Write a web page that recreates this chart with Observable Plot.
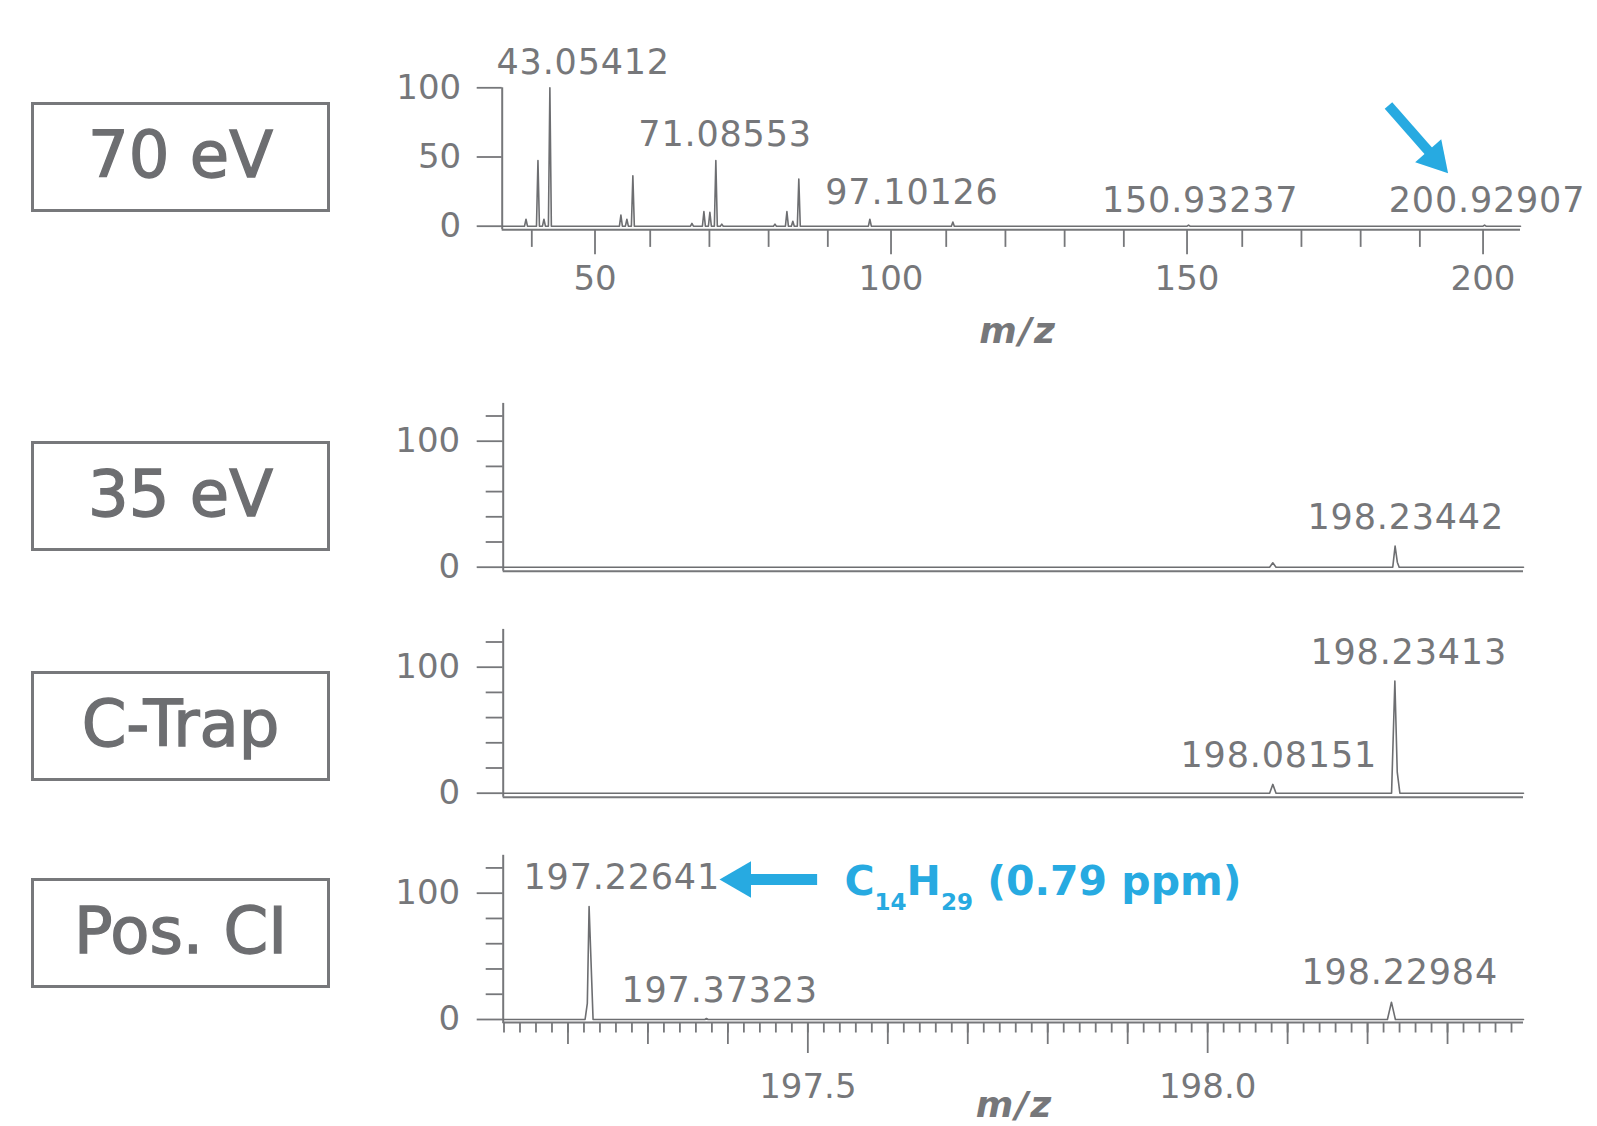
<!DOCTYPE html>
<html>
<head>
<meta charset="utf-8">
<script src="https://cdn.jsdelivr.net/npm/d3@7"></script>
<script src="https://cdn.jsdelivr.net/npm/@observablehq/plot@0.6"></script>
<style>
  html, body { margin: 0; padding: 0; background: #fff; }
  #root { position: relative; width: 1597px; height: 1126px; overflow: hidden; font-family: "DejaVu Sans", sans-serif; background: #fff; }
  .box { position: absolute; left: 31px; width: 299px; height: 110px; border: 3.5px solid #77787b; box-sizing: border-box;
         display: flex; align-items: center; justify-content: center; font-size: 64px; color: #6d6e71; padding-bottom: 4px;
         -webkit-text-stroke: 1.4px #6d6e71; }
</style>
</head>
<body>
<div id="root"></div>
<script>
// ================= DATA =================
// 70 eV EI full scan: centroid peaks (m/z, relative intensity %)
const ei70Mz  = [39.02, 41.04, 42.05, 43.05412, 55.05, 56.06, 57.07, 67.05, 69.07, 70.08, 71.08553, 72.09, 81.07, 83.09, 84.09, 85.10, 97.10126, 111.12, 150.93237, 200.92907];
const ei70Int = [5, 47.5, 5, 100, 8, 5, 36.5, 2, 10.5, 10, 47.5, 1.5, 1.5, 10.5, 3.5, 34, 5, 3, 0.8, 0.8];
const ei70Labels = ["43.05412", "71.08553", "97.10126", "150.93237", "200.92907"];
const ei70XTicks = [50, 100, 150, 200];
const ei70XMinor = [40, 60, 70, 80, 90, 110, 120, 130, 140, 160, 170, 180, 190];
const ei70YTicks = [0, 50, 100];

// Zoomed profile spectra (m/z, relative intensity %)
const ei35Mz   = [197.119, 198.0775, 198.08151, 198.0855, 198.2315, 198.23442, 198.2372, 198.2395, 198.395];
const ei35Int  = [0, 0, 3.5, 0, 0, 16.7, 4, 0, 0];
const ei35Labels = ["198.23442"];

const ctrapMz  = [197.119, 198.0775, 198.08151, 198.0855, 198.2300, 198.23413, 198.2371, 198.2404, 198.395];
const ctrapInt = [0, 0, 7, 0, 0, 89, 16.7, 0, 0];
const ctrapLabels = ["198.23413", "198.08151"];

const posciMz  = [197.119, 197.2214, 197.2242, 197.22641, 197.2314, 197.3712, 197.37323, 197.3752, 198.2248, 198.22984, 198.2348, 198.395];
const posciInt = [0, 0, 12.7, 89.5, 0, 0, 0.8, 0, 0, 13.7, 0, 0];
const posciLabels = ["197.22641", "197.37323", "198.22984"];

const zoomXTicks = [197.5, 198.0];
const zoomXMid   = [197.2, 197.3, 197.4, 197.6, 197.7, 197.8, 197.9, 198.1, 198.2, 198.3];
const zoomXMinor = d3.range(0, 64).map(i => +(197.12 + i * 0.02).toFixed(2));
const zoomYTicks = [0, 100];
const zoomYMinor = [20, 40, 60, 80, 120];

const boxLabels = ["70 eV", "35 eV", "C-Trap", "Pos. CI"];
const formulaText = "C14H29 (0.79 ppm)";
const axisTitle = "m/z";

// ================= LAYOUT (annotation positions, data units) =================
const ei70LabelPos  = [[34.04, 110.3], [58.0, 57.6], [89.57, 16.4], [136.3, 9.9], [184.75, 9.9]];
const ei35LabelPos  = [[198.1249, 30.5]];
const ctrapLabelPos = [[198.1286, 102.7], [197.9661, 20.4]];
const posciLabelPos = [[197.1444, 103.7], [197.2669, 13.5], [198.1174, 28.5]];
const arrow70  = {x1: 184.70, y1: 87.2, x2: 192.53, y2: 49.1};
const head70   = {rotate: 138.6, r: 12.9};
const arrowCI  = {x1: 197.5116, y1: 110.85, x2: 197.4158, y2: 110.85};
const headCI   = {rotate: -90, r: 13.5};
const formulaPos = {x: 197.5458, y: 98.2};
const boxTops = [101.7, 440.7, 670.7, 877.7];

const GRAY = "#76777a", LINE = "#6d6e71", BLUE = "#27aae1", FONT = "DejaVu Sans";
const root = document.getElementById("root");

function stickProfile(mz, ints, lo, hi, hw) {
  const pts = [{x: lo, y: 0}];
  mz.forEach((m, i) => pts.push({x: m - hw, y: 0}, {x: m, y: ints[i]}, {x: m + hw, y: 0}));
  pts.push({x: hi, y: 0});
  return pts;
}
const zip = (a, b) => a.map((v, i) => ({x: v, y: b[i]}));
const labelData = (texts, pos) => texts.map((t, i) => ({text: t, x: pos[i][0], y: pos[i][1]}));

function place(svg, top) {
  svg.style.position = "absolute"; svg.style.left = "0px"; svg.style.top = top + "px";
  root.appendChild(svg);
  return svg;
}
const baseStyle = {background: "transparent", overflow: "visible", color: GRAY, fontFamily: FONT, fontSize: "34px"};
const peakText = (data) => Plot.text(data, {x: "x", y: "y", text: "text", textAnchor: "start", lineAnchor: "bottom", fontSize: 35, fill: GRAY, fontFamily: FONT});
const titleText = (x, y) => Plot.text([{x, y, text: axisTitle}], {x: "x", y: "y", text: "text", textAnchor: "middle", lineAnchor: "bottom", fontSize: 36, fontWeight: "bold", fontStyle: "italic", fill: GRAY, fontFamily: FONT});
const arrowMarks = (a, h, w) => [
  Plot.link([a], {x1: "x1", y1: "y1", x2: "x2", y2: "y2", stroke: BLUE, strokeWidth: w}),
  Plot.dot([a], {x: "x2", y: "y2", symbol: "triangle", r: h.r, rotate: h.rotate, fill: BLUE, stroke: "none"})
];

// ---------- Panel 1: 70 eV ----------
const prof70 = stickProfile(ei70Mz, ei70Int, 35, 207, 0.25);
place(Plot.plot({
  width: 1597, height: 370,
  marginLeft: 501.7, marginRight: 77, marginTop: 87.3, marginBottom: 144.3,
  x: {domain: [35, 207], label: null}, y: {domain: [0, 100], label: null},
  style: baseStyle,
  marks: [
    Plot.ruleY([0], {dy: 3.5, stroke: GRAY, strokeWidth: 2}),
    Plot.ruleX([35], {y1: -2.5, y2: 100, stroke: GRAY, strokeWidth: 2}),
    Plot.axisY({ticks: ei70YTicks, tickSize: 25, tickPadding: 16, fontSize: 34, strokeWidth: 1.8, label: null}),
    Plot.axisX({ticks: ei70XTicks, tickSize: 25, tickPadding: 11, dy: 3.5, dx: 4, fontSize: 34, strokeWidth: 1.8, label: null}),
    Plot.axisX({ticks: ei70XMinor, tickSize: 17.7, dy: 3.5, tickFormat: () => "", strokeWidth: 1.8, label: null}),
    Plot.line(prof70, {x: "x", y: "y", stroke: LINE, strokeWidth: 1.6}),
    peakText(labelData(ei70Labels, ei70LabelPos)),
    ...arrowMarks(arrow70, head70, 10),
    titleText(122.14, -84.75)
  ]
}), 0);

// ---------- Zoomed panels ----------
function zoomPanel({top, height, mt, mb, mz, ints, labels, pos, bottomAxis, extra = []}) {
  const marks = [
    Plot.ruleY([0], {dy: bottomAxis ? 3 : 4, stroke: GRAY, strokeWidth: 2}),
    Plot.ruleX([197.119], {y1: -3.2, y2: 130, stroke: GRAY, strokeWidth: 2}),
    Plot.axisY({ticks: zoomYTicks, tickSize: 26, tickPadding: 17, fontSize: 34, strokeWidth: 1.8, label: null}),
    Plot.axisY({ticks: zoomYMinor, tickSize: 17, tickFormat: () => "", strokeWidth: 1.8, label: null}),
  ];
  if (bottomAxis) {
    marks.push(
      Plot.axisX({ticks: zoomXTicks, tickSize: 31, tickPadding: 20, dy: 3, fontSize: 34, strokeWidth: 1.8, tickFormat: d3.format(".1f"), label: null}),
      Plot.axisX({ticks: zoomXMid, tickSize: 22, dy: 3, tickFormat: () => "", strokeWidth: 1.8, label: null}),
      Plot.axisX({ticks: zoomXMinor, tickSize: 10.5, dy: 3, tickFormat: () => "", strokeWidth: 1.8, label: null})
    );
  } else {
    marks.push(Plot.axisX({ticks: [], label: null}));
  }
  marks.push(
    Plot.line(zip(mz, ints), {x: "x", y: "y", stroke: LINE, strokeWidth: 1.6}),
    peakText(labelData(labels, pos)),
    ...extra
  );
  return place(Plot.plot({
    width: 1597, height,
    marginLeft: 502.7, marginRight: 74, marginTop: mt, marginBottom: mb,
    x: {domain: [197.119, 198.395], label: null}, y: {domain: [0, 130], label: null},
    style: baseStyle, marks
  }), top);
}

zoomPanel({top: 380, height: 210, mt: 22.9, mb: 23.3, mz: ei35Mz, ints: ei35Int, labels: ei35Labels, pos: ei35LabelPos});
zoomPanel({top: 600, height: 210, mt: 28.9, mb: 17.3, mz: ctrapMz, ints: ctrapInt, labels: ctrapLabels, pos: ctrapLabelPos});
const svg4 = zoomPanel({top: 830, height: 296, mt: 24.8, mb: 107, mz: posciMz, ints: posciInt, labels: posciLabels, pos: posciLabelPos, bottomAxis: true,
  extra: [
    ...arrowMarks(arrowCI, headCI, 11),
    Plot.text([{...formulaPos, text: formulaText}], {x: "x", y: "y", text: "text", textAnchor: "start", lineAnchor: "bottom", fontSize: 41, fontWeight: "bold", fill: BLUE, fontFamily: FONT}),
    titleText(197.7584, -77.5)
  ]});

// formula subscripts
d3.select(svg4).selectAll("text").filter(function() { return this.textContent === formulaText; }).each(function() {
  const t = d3.select(this);
  t.text(null).style("white-space", "pre");
  t.append("tspan").text("C");
  t.append("tspan").attr("font-size", 23).attr("dy", 15).text("14");
  t.append("tspan").attr("dy", -15).text("H");
  t.append("tspan").attr("font-size", 23).attr("dy", 15).text("29");
  t.append("tspan").attr("dy", -15).text(" (0.79 ppm)");
});
// letter spacing for numeric peak labels and axis title
d3.select(root).selectAll("text").each(function() {
  const s = this.textContent;
  if (/^\d+\.\d{5}$/.test(s)) this.style.letterSpacing = "0.8px";
  if (s === axisTitle) this.style.letterSpacing = "2px";
});

// ---------- label boxes ----------
boxLabels.forEach((t, i) => {
  const d = document.createElement("div");
  d.className = "box";
  d.style.top = boxTops[i] + "px";
  d.textContent = t;
  root.appendChild(d);
});
</script>
</body>
</html>
